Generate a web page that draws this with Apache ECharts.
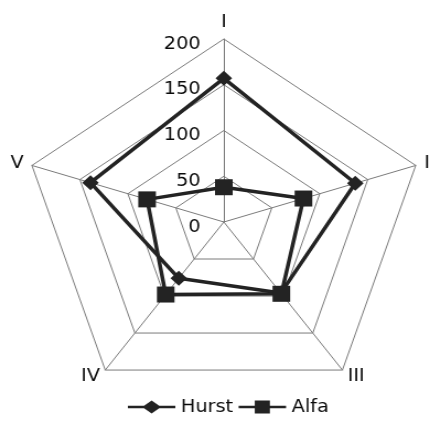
<!DOCTYPE html>
<html>
<head>
<meta charset="utf-8">
<script src="https://cdn.jsdelivr.net/npm/echarts@6/dist/echarts.min.js"></script>
<style>
    html, body { margin: 0; padding: 0; background: #fff; overflow: hidden; }
    /* the source picture is stretched horizontally, so stretch the canvas too */
    #radarChart {
        width: 390px;
        height: 424px;
        transform: scaleX(1.1026);
        transform-origin: 0 0;
    }
</style>
</head>
<body>
<div id="radarChart"></div>
<script>
var categories = ['I', 'II', 'III', 'IV', 'V'];
var hurst = [157, 137, 96, 76, 139];
var alfa = [38, 83, 97, 98, 80];
var maxValue = 200;
var tickLabels = ['0', '50', '100', '150', '200'];

// echarts places indicators counter-clockwise, the picture goes clockwise
var order = [0, 4, 3, 2, 1];
function reorder(arr) {
    return order.map(function (i) { return arr[i]; });
}

var chart = echarts.init(document.getElementById('radarChart'));
var lineColor = '#232323';
var textColor = '#0a0a0a';
var gridColor = '#7a7a7a';

chart.setOption({
    animation: false,
    legend: {
        left: 111,
        top: 393,
        itemWidth: 43,
        itemHeight: 14,
        itemGap: 5,
        textStyle: { fontFamily: 'DejaVu Sans', fontSize: 17.5, color: textColor },
        data: [{
            name: 'Hurst',
            icon: 'path://M0,5.5 L16,5.5 L23.5,0 L31,5.5 L47,5.5 L47,8.5 L31,8.5 L23.5,14 L16,8.5 L0,8.5 Z',
            itemStyle: { color: lineColor }
        }, {
            name: 'Alfa',
            icon: 'path://M0,5.5 L16,5.5 L16,0 L31,0 L31,5.5 L47,5.5 L47,8.5 L31,8.5 L31,14 L16,14 L16,8.5 L0,8.5 Z',
            itemStyle: { color: lineColor }
        }]
    },
    radar: {
        center: [203, 222],
        radius: 183,
        startAngle: 90,
        splitNumber: tickLabels.length - 1,
        shape: 'polygon',
        nameGap: 8,
        axisName: { color: textColor, fontFamily: 'DejaVu Sans', fontSize: 17.5 },
        axisLine: { lineStyle: { color: gridColor, width: 1 } },
        splitLine: { lineStyle: { color: gridColor, width: 1 } },
        splitArea: { show: false },
        axisLabel: { show: false },
        indicator: reorder(categories).map(function (c, i) {
            var ind = { name: c, min: 0, max: maxValue };
            if (i === 0) {
                // value labels only on the top axis
                ind.axisLabel = {
                    show: true,
                    margin: 21,
                    color: textColor,
                    fontFamily: 'DejaVu Sans',
                    fontSize: 17.5,
                    formatter: function (v) {
                        return '{t|' + tickLabels[Math.round(v / 50)] + '}';
                    },
                    rich: {
                        t: {
                            padding: [10, 0, 0, 0],
                            color: textColor,
                            fontFamily: 'DejaVu Sans',
                            fontSize: 17.5
                        }
                    }
                };
            }
            return ind;
        })
    },
    series: [{
        type: 'radar',
        data: [{
            name: 'Hurst',
            value: reorder(hurst),
            symbol: 'diamond',
            symbolSize: 15,
            itemStyle: { color: lineColor },
            lineStyle: { color: lineColor, width: 3.5 }
        }, {
            name: 'Alfa',
            value: reorder(alfa),
            symbol: 'rect',
            symbolSize: 16,
            itemStyle: { color: lineColor },
            lineStyle: { color: lineColor, width: 3.5 }
        }]
    }]
});
</script>
</body>
</html>
